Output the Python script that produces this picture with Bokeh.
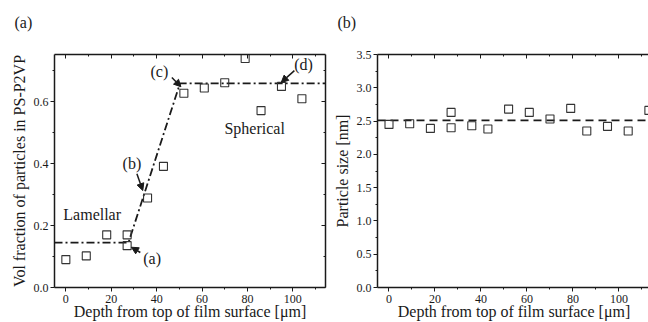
from bokeh.plotting import figure
from bokeh.layouts import row
from bokeh.models import (Range1d, LinearAxis, FixedTicker, Arrow, NormalHead,
                          Label, Title, CustomJSTickFormatter)
from bokeh.embed import file_html
from bokeh.resources import INLINE

# ---- data: panel (a)
depth_a = [0, 9, 18, 27, 27, 36, 43, 52, 61, 70, 79, 86, 95, 104]
volfrac = [0.090, 0.102, 0.170, 0.170, 0.135, 0.289, 0.391, 0.627, 0.644, 0.661, 0.739, 0.571, 0.649, 0.609]
fit_x = [-5, 27.6, 50.3, 115]
fit_y = [0.145, 0.145, 0.659, 0.659]

# ---- data: panel (b)
depth_b = [0, 9, 18, 27, 27, 36, 43, 52, 61, 70, 79, 86, 95, 104, 113]
psize = [2.45, 2.46, 2.39, 2.63, 2.40, 2.43, 2.38, 2.68, 2.63, 2.53, 2.69, 2.35, 2.42, 2.35, 2.66]
mean_size = 2.51

x_major = [0, 20, 40, 60, 80, 100]
x_minor = [-10, 10, 30, 50, 70, 90, 110]
ya_major = [0.0, 0.2, 0.4, 0.6]
ya_minor = [0.1, 0.3, 0.5, 0.7]
yb_major = [0.0, 0.5, 1.0, 1.5, 2.0, 2.5, 3.0, 3.5]
yb_minor = [0.25, 0.75, 1.25, 1.75, 2.25, 2.75, 3.25]

SERIF = "Liberation Serif"
BLACK = "#1a1a1a"
XTITLE = "Depth from top of film surface [\u03bcm]"


def style(p, xmaj, xmin, ymaj, ymin, ylabel, right_axis=True):
    p.grid.visible = False
    p.outline_line_color = None
    p.background_fill_color = "white"
    p.border_fill_color = "white"
    for ax in p.xaxis:
        ax.ticker = FixedTicker(ticks=xmaj, minor_ticks=xmin)
        ax.axis_label = XTITLE
    for ax in p.yaxis:
        ax.ticker = FixedTicker(ticks=ymaj, minor_ticks=ymin)
        ax.axis_label = ylabel
        ax.formatter = CustomJSTickFormatter(code="return tick.toFixed(1);")
    for ax in list(p.xaxis) + list(p.yaxis):
        ax.axis_line_width = 1.5
        ax.axis_line_color = BLACK
        ax.major_tick_line_color = BLACK
        ax.minor_tick_line_color = BLACK
        ax.major_tick_in = 0
        ax.major_tick_out = 4
        ax.minor_tick_in = 0
        ax.minor_tick_out = 2
        ax.major_label_text_font = SERIF
        ax.major_label_text_font_size = "12px"
        ax.major_label_text_color = BLACK
        ax.axis_label_text_font = SERIF
        ax.axis_label_text_font_size = "16px"
        ax.axis_label_text_font_style = "normal"
        ax.axis_label_text_color = BLACK
    p.xaxis.major_label_standoff = 3
    p.xaxis.axis_label_standoff = -3
    p.yaxis.major_label_standoff = 2
    p.yaxis.axis_label_standoff = 3

    blank = CustomJSTickFormatter(code="return '';")
    extra = [("above", xmaj, xmin)]
    if right_axis:
        extra.append(("right", ymaj, ymin))
    for side, maj, mn in extra:
        ax = LinearAxis(ticker=FixedTicker(ticks=maj, minor_ticks=mn), formatter=blank,
                        major_tick_in=4, major_tick_out=0, minor_tick_in=2, minor_tick_out=0,
                        major_label_standoff=0, major_label_text_font_size="0px",
                        axis_line_width=1.5, axis_line_color=BLACK,
                        major_tick_line_color=BLACK, minor_tick_line_color=BLACK)
        p.add_layout(ax, side)


def panel_title(p, text):
    # trailing empty line lifts the panel tag into the top margin
    p.add_layout(Title(text=text + "\n", align="left", vertical_align="top", offset=-40, standoff=10,
                       text_font=SERIF, text_font_size="16px", text_font_style="normal",
                       text_color=BLACK), "above")


# ---------------- panel (a)
pa = figure(frame_width=271, frame_height=233, x_range=Range1d(-5, 114.4), y_range=Range1d(0, 0.752),
            output_backend="svg", toolbar_location=None,
            min_border_left=54, min_border_right=5, min_border_top=54, min_border_bottom=34)
style(pa, x_major, x_minor, ya_major, ya_minor, "Vol fraction of particles in PS-P2VP")
panel_title(pa, "(a)")

pa.line(fit_x, fit_y, line_color=BLACK, line_width=1.8, line_dash="8 3 2 3")
pa.scatter(depth_a, volfrac, marker="square", size=8, fill_color=None,
           line_color="#333333", line_width=1.1)

for (xs, ys, xe, ye) in [(32.8, 0.113, 28.9, 0.130), (31.3, 0.367, 33.9, 0.313),
                         (46.7, 0.678, 50.7, 0.648), (100.7, 0.700, 94.9, 0.662)]:
    pa.add_layout(Arrow(end=NormalHead(size=7, fill_color=BLACK, line_color=BLACK),
                        x_start=xs, y_start=ys, x_end=xe, y_end=ye,
                        line_color=BLACK, line_width=1.5))

for txt, x, y in [("(a)", 38.0, 0.093), ("(b)", 29.1, 0.401), ("(c)", 41.2, 0.698),
                  ("(d)", 104.7, 0.719), ("Lamellar", 11.6, 0.235), ("Spherical", 83.2, 0.512)]:
    pa.add_layout(Label(x=x, y=y, text=txt, text_align="center", text_baseline="middle",
                        text_font=SERIF, text_font_size="16px", text_color=BLACK))

# ---------------- panel (b)
pb = figure(frame_width=273, frame_height=233, x_range=Range1d(-5, 113.7), y_range=Range1d(0, 3.5),
            output_backend="svg", toolbar_location=None,
            min_border_left=45, min_border_right=0, min_border_top=54, min_border_bottom=34)
style(pb, x_major, x_minor, yb_major, yb_minor, "Particle size [nm]", right_axis=False)
panel_title(pb, "(b)")

pb.line([-5, 115], [mean_size, mean_size], line_color=BLACK, line_width=1.8, line_dash="8 5")
pb.scatter(depth_b, psize, marker="square", size=8, fill_color=None,
           line_color="#333333", line_width=1.1)

layout = row(pa, pb)
open("out.html", "w").write(file_html(layout, INLINE))
